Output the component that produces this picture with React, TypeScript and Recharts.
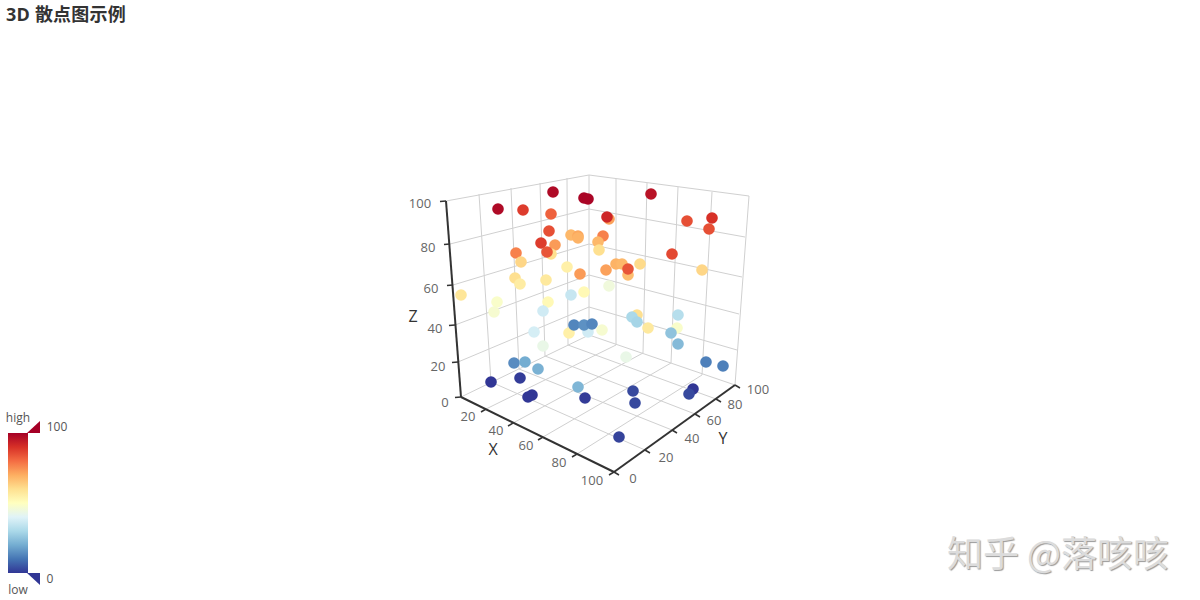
import { Scatter, ScatterChart, XAxis, YAxis, ReferenceLine, ReferenceDot, ReferenceArea } from "recharts";

// the source is a perspective 3D view, so everything is read in the plane of the picture
const pointX = [498, 523, 553, 584, 588, 551, 549, 541, 555, 551, 547, 516, 521, 571, 578, 578, 603, 598, 599, 567, 580, 515, 520, 546, 461, 497, 494, 548, 571, 584, 543, 534, 569, 588, 574, 584, 592, 602, 609, 609, 607, 651, 687, 712, 709, 672, 702, 640, 616, 622, 628, 628, 606, 637, 632, 637, 678, 677, 648, 671, 678, 706, 723, 626, 633, 635, 585, 619, 693, 689, 578, 514, 525, 538, 491, 520, 532, 528, 543];
const pointY = [209, 210, 192, 198, 199, 214, 231, 243, 245, 254, 252, 253, 262, 235, 236, 238, 236, 242, 250, 267, 274, 278, 284, 280, 295, 302, 312, 302, 295, 292, 311, 332, 333, 332, 325, 325, 324, 330, 286, 219, 217, 194, 221, 218, 229, 254, 270, 264, 264, 264, 275, 269, 270, 315, 317, 322, 315, 328, 328, 333, 344, 362, 366, 357, 391, 403, 398, 437, 389, 394, 387, 363, 362, 369, 382, 378, 395, 397, 346];
const pointValue = [98, 88, 98, 99, 99, 82, 85, 88, 73, 60, 84, 77, 62, 68, 71, 69, 77, 68, 60, 55, 73, 60, 56, 57, 58, 48, 47, 52, 35, 52, 37, 38, 55, 37, 13, 15, 13, 47, 45, 72, 92, 96, 85, 90, 85, 86, 62, 61, 69, 68, 67, 84, 72, 60, 30, 29, 32, 48, 57, 25, 23, 12, 12, 43, 3, 3, 1, 2, 0, 3, 22, 14, 20, 21, 0, 1, 0, 0, 43];

// tick positions along the box edges, for 20, 40, 60, 80
const xAxisTicks = [[486, 409], [513, 423], [543, 437], [577, 454]];
const yAxisTicks = [[645, 450], [672, 430], [695, 414], [716, 399]];
const zAxisTicks = [[450, 244], [453, 285], [455, 325], [458, 362]];
const backZTicks = [[589, 209], [589, 244], [589, 275], [589, 307]];
const rightZTicks = [[745, 237], [742, 277], [739, 314], [737, 350]];
const leftTopTicks = [[479, 194], [511, 188], [540, 183], [567, 178]];
const leftFloorTicks = [[491, 382], [519, 369], [545, 356], [568, 345]];
const rightTopTicks = [[616, 179], [647, 183], [678, 187], [712, 192]];
const rightFloorTicks = [[616, 345], [643, 353], [671, 363], [702, 375]];

const boxEdges = [
  [[446, 201], [589, 175]],
  [[589, 175], [749, 196]],
  [[749, 196], [735, 385]],
  [[735, 385], [589, 335]],
  [[589, 175], [589, 335]],
  [[461, 397], [589, 335]],
];
const darkAxes = [
  [[446, 201], [461, 397]],
  [[461, 397], [614, 472]],
  [[614, 472], [735, 385]],
];

const xTickLabels = [["20", 468, 416], ["40", 496, 430], ["60", 526, 445], ["80", 559, 462], ["100", 592, 480]];
const yTickLabels = [["0", 633, 478], ["20", 666, 457], ["40", 692, 438], ["60", 714, 420], ["80", 735, 404], ["100", 758, 389]];
const zTickLabels = [["100", 420, 203], ["80", 428, 247], ["60", 431, 288], ["40", 435, 328], ["20", 438, 366], ["0", 445, 402]];
const axisNames = [["X", 493, 449], ["Y", 723, 438], ["Z", 413, 316]];

const rampColors = ["#313695", "#4575b4", "#74add1", "#abd9e9", "#e0f3f8", "#ffffbf", "#fee090", "#fdae61", "#f46d43", "#d73027", "#a50026"];

const points = pointX.map((px, i) => ({ px, py: pointY[i], value: pointValue[i] }));

const hex = (c: string) => [1, 3, 5].map((i) => parseInt(c.slice(i, i + 2), 16));

const colorFor = (v: number) => {
  const t = Math.min(v / 10, 9.999);
  const i = Math.floor(t);
  const a = hex(rampColors[i]);
  const b = hex(rampColors[i + 1]);
  const mix = a.map((n, k) => Math.round(n + (b[k] - n) * (t - i)));
  return `rgb(${mix.join(",")})`;
};

const fontFamily = "'Open Sans', 'Noto Sans CJK SC', sans-serif";

const Label = ({ cx, cy, text, size = 13, fill = "#666", anchor = "middle" }: any) => (
  <text x={cx} y={cy} fontSize={size} fill={fill} fontFamily={fontFamily} textAnchor={anchor} dominantBaseline="central">
    {text}
  </text>
);

const seg = (key: string, a: number[], b: number[], stroke = "#d0d0d0", width = 1) => (
  <ReferenceLine
    key={key}
    segment={[{ x: a[0], y: a[1] }, { x: b[0], y: b[1] }]}
    stroke={stroke}
    strokeWidth={width}
    ifOverflow="visible"
  />
);

const pairs = (name: string, from: number[][], to: number[][]) => from.map((a, i) => seg(`${name}${i}`, a, to[i]));

const tickMarks = (name: string, list: number[][], dx: number, dy: number) =>
  list.map((a, i) => seg(`${name}${i}`, a, [a[0] + dx, a[1] + dy], "#333", 1.5));

const labelDots = (name: string, list: any[], size?: number, fill?: string) =>
  list.map(([text, x, y]) => (
    <ReferenceDot
      key={`${name}${text}`}
      x={x}
      y={y}
      ifOverflow="visible"
      shape={(p: any) => <Label cx={p.cx} cy={p.cy} text={text} size={size} fill={fill} />}
    />
  ));

export default function App() {
  return (
    <div style={{ position: "absolute", left: 0, top: 0, width: 1200, height: 600, background: "#fff", overflow: "hidden" }}>
      <div style={{ position: "absolute", left: 6, top: 1, fontFamily, fontSize: 18, fontWeight: 700, color: "#333", lineHeight: "26px", letterSpacing: 0.2 }}>
        3D 散点图示例
      </div>
      <div
        style={{
          position: "absolute",
          left: 947,
          top: 526,
          fontFamily: "'Noto Sans CJK SC', sans-serif",
          fontSize: 36,
          lineHeight: "50px",
          color: "#dcdcdc",
          textShadow: "1px 1px 1px #999",
          whiteSpace: "nowrap",
        }}
      >
        知乎 @落咳咳
      </div>
      <ScatterChart width={1200} height={600} margin={{ top: 0, right: 0, bottom: 0, left: 0 }}>
        <defs>
          <linearGradient id="rampFill" x1="0" y1="1" x2="0" y2="0">
            {rampColors.map((c, i) => (
              <stop key={c} offset={`${i * 10}%`} stopColor={c} />
            ))}
          </linearGradient>
        </defs>
        <XAxis type="number" dataKey="px" domain={[0, 1200]} hide />
        <YAxis type="number" dataKey="py" domain={[0, 600]} reversed hide />

        {boxEdges.map((e, i) => seg(`box${i}`, e[0], e[1]))}
        {pairs("lh", zAxisTicks, backZTicks)}
        {pairs("rh", backZTicks, rightZTicks)}
        {pairs("lv", leftTopTicks, leftFloorTicks)}
        {pairs("rv", rightTopTicks, rightFloorTicks)}
        {pairs("fx", xAxisTicks, rightFloorTicks)}
        {pairs("fy", leftFloorTicks, yAxisTicks)}

        {darkAxes.map((e, i) => seg(`axis${i}`, e[0], e[1], "#333", 2))}
        {tickMarks("zt", [[446, 201], ...zAxisTicks, [461, 397]], -6, 0.5)}
        {tickMarks("xt", [...xAxisTicks, [614, 472]], -5, 3)}
        {tickMarks("yt", [[614, 472], ...yAxisTicks, [735, 385]], 5, 3)}

        {labelDots("x", xTickLabels)}
        {labelDots("y", yTickLabels)}
        {labelDots("z", zTickLabels)}
        {labelDots("n", axisNames, 16, "#333")}

        <Scatter
          data={points}
          isAnimationActive={false}
          shape={(p: any) => <circle cx={p.cx} cy={p.cy} r={5.8} fill={colorFor(p.payload.value)} />}
        />

        <ReferenceArea x1={8} x2={28} y1={433} y2={573} fill="url(#rampFill)" fillOpacity={1} stroke="none" ifOverflow="visible" />
        <ReferenceDot
          x={27}
          y={433}
          ifOverflow="visible"
          shape={(p: any) => <polygon points={`${p.cx},${p.cy} ${p.cx + 13},${p.cy} ${p.cx + 13},${p.cy - 12}`} fill="#a50026" />}
        />
        <ReferenceDot
          x={27}
          y={573}
          ifOverflow="visible"
          shape={(p: any) => <polygon points={`${p.cx},${p.cy} ${p.cx + 13},${p.cy} ${p.cx + 13},${p.cy + 12}`} fill="#313695" />}
        />
        {labelDots("vm", [["high", 18, 417], ["low", 18, 589], ["100", 57, 426], ["0", 50, 578]], 12, "#555")}
      </ScatterChart>
    </div>
  );
}
